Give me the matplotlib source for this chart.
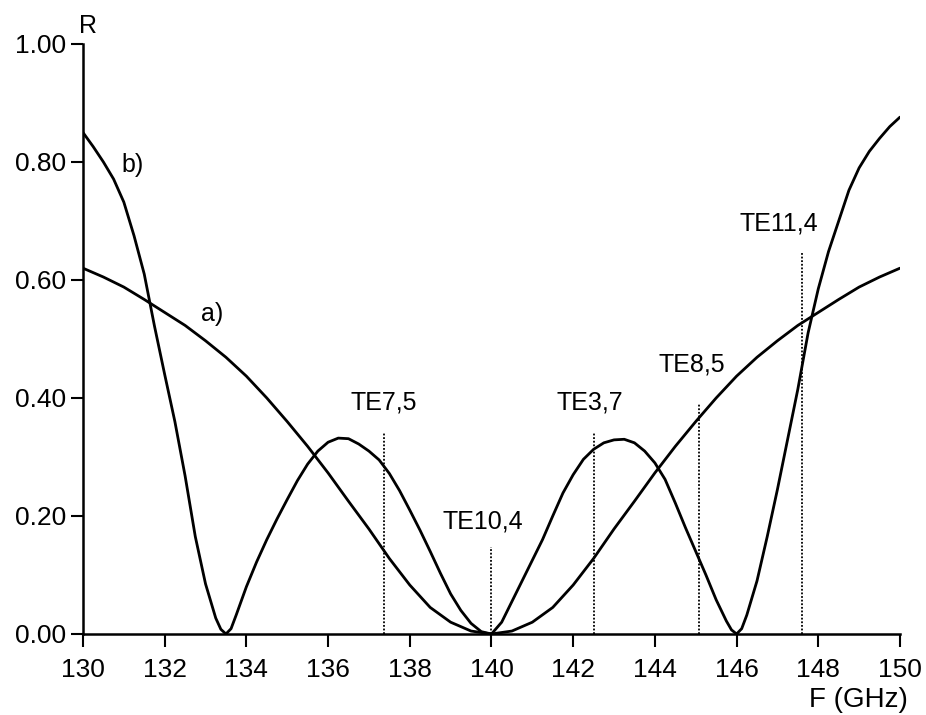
import matplotlib
matplotlib.use("Agg")
import matplotlib.pyplot as plt

plt.rcParams['font.family'] = ['Liberation Sans', 'DejaVu Sans']

# Curve a) (sampled every 0.5 GHz)
freq_a = [130.0, 130.5, 131.0, 131.5, 132.0, 132.5, 133.0, 133.5, 134.0, 134.5,
          135.0, 135.5, 136.0, 136.5, 137.0, 137.5, 138.0, 138.5, 139.0, 139.5,
          140.0, 140.5, 141.0, 141.5, 142.0, 142.5, 143.0, 143.5, 144.0, 144.5,
          145.0, 145.5, 146.0, 146.5, 147.0, 147.5, 148.0, 148.5, 149.0, 149.5, 150.0]
refl_a = [0.620, 0.605, 0.588, 0.567, 0.545, 0.523, 0.497, 0.469, 0.437, 0.400,
          0.360, 0.318, 0.273, 0.225, 0.178, 0.128, 0.083, 0.045, 0.020, 0.005,
          0.000, 0.005, 0.020, 0.045, 0.083, 0.128, 0.178, 0.225, 0.273, 0.318,
          0.360, 0.400, 0.437, 0.469, 0.497, 0.523, 0.545, 0.567, 0.588, 0.605, 0.620]

# Curve b) (sampled every 0.25 GHz, finer near the minima)
freq_b = [130.00, 130.25, 130.50, 130.75, 131.00, 131.25, 131.50, 131.75,
          132.00, 132.25, 132.50, 132.75, 133.00, 133.25, 133.375, 133.50, 133.625, 133.75,
          134.00, 134.25, 134.50, 134.75, 135.00, 135.25, 135.50, 135.75,
          136.00, 136.25, 136.50, 136.75, 137.00, 137.25, 137.50, 137.75,
          138.00, 138.25, 138.50, 138.75, 139.00, 139.25, 139.50, 139.75,
          140.00, 140.25, 140.50, 140.75, 141.00, 141.25, 141.50, 141.75,
          142.00, 142.25, 142.50, 142.75, 143.00, 143.25, 143.50, 143.75,
          144.00, 144.25, 144.50, 144.75, 145.00, 145.25, 145.50, 145.75, 145.875,
          146.00, 146.125, 146.25, 146.50, 146.75, 147.00, 147.25, 147.50, 147.75,
          148.00, 148.25, 148.50, 148.75, 149.00, 149.25, 149.50, 149.75, 150.00]
refl_b = [0.850, 0.826, 0.800, 0.771, 0.732, 0.675, 0.610, 0.522,
          0.440, 0.360, 0.268, 0.165, 0.085, 0.027, 0.008, 0.000, 0.009, 0.032,
          0.080, 0.122, 0.160, 0.195, 0.228, 0.260, 0.288, 0.310,
          0.325, 0.332, 0.331, 0.322, 0.310, 0.295, 0.272, 0.243,
          0.210, 0.176, 0.140, 0.103, 0.068, 0.040, 0.018, 0.004,
          0.000, 0.020, 0.055, 0.090, 0.125, 0.160, 0.200, 0.239,
          0.270, 0.296, 0.313, 0.324, 0.329, 0.330, 0.324, 0.310,
          0.290, 0.262, 0.222, 0.180, 0.140, 0.100, 0.058, 0.022, 0.007,
          0.000, 0.009, 0.032, 0.090, 0.165, 0.245, 0.330, 0.415, 0.510,
          0.585, 0.648, 0.700, 0.752, 0.790, 0.818, 0.840, 0.860, 0.876]

# Mode markers
mode_names = ["TE7,5", "TE10,4", "TE3,7", "TE8,5", "TE11,4"]
mode_freq = [137.37, 140.0, 142.51, 145.09, 147.61]
mode_height = [0.341, 0.147, 0.341, 0.390, 0.646]
mode_label_x = [137.37, 139.79, 142.41, 144.90, 147.04]
mode_label_y = [0.393, 0.190, 0.392, 0.456, 0.695]

x_ticks = [130, 132, 134, 136, 138, 140, 142, 144, 146, 148, 150]
y_ticks = [0.0, 0.2, 0.4, 0.6, 0.8, 1.0]
y_tick_labels = ["0.00", "0.20", "0.40", "0.60", "0.80", "1.00"]

fig = plt.figure(figsize=(9.26, 7.15), dpi=100)
ax = fig.add_axes([0.0896, 0.1133, 0.8823, 0.8252])

ax.plot(freq_a, refl_a, color='black', lw=2.0, solid_joinstyle='round', solid_capstyle='round')
ax.plot(freq_b, refl_b, color='black', lw=2.0, solid_joinstyle='round', solid_capstyle='round')

for f, h, name, lx, ly in zip(mode_freq, mode_height, mode_names, mode_label_x, mode_label_y):
    ax.plot([f, f], [0, h], color='black', lw=1.3, linestyle=(0, (1, 1)))
    ax.text(lx, ly, name, ha='center', va='center', fontsize=18)

ax.text(131.22, 0.795, "b)", ha='center', va='center', fontsize=18)
ax.text(133.16, 0.542, "a)", ha='center', va='center', fontsize=18)

ax.set_xlim(130, 150)
ax.set_ylim(0, 1.0)
ax.set_xticks(x_ticks)
ax.set_xticklabels([str(t) for t in x_ticks])
ax.set_yticks(y_ticks)
ax.set_yticklabels(y_tick_labels)
ax.tick_params(axis='both', direction='out', length=9, width=1.5, labelsize=19, pad=3)
ax.tick_params(axis='x', pad=8)

for s in ['top', 'right']:
    ax.spines[s].set_visible(False)
for s in ['left', 'bottom']:
    ax.spines[s].set_linewidth(1.8)

ax.text(0.006, 1.03, "R", transform=ax.transAxes, ha='center', va='center', fontsize=18)
ax.text(0.949, -0.112, "F (GHz)", transform=ax.transAxes, ha='center', va='center', fontsize=20)

fig.savefig("out.png", dpi=100)
